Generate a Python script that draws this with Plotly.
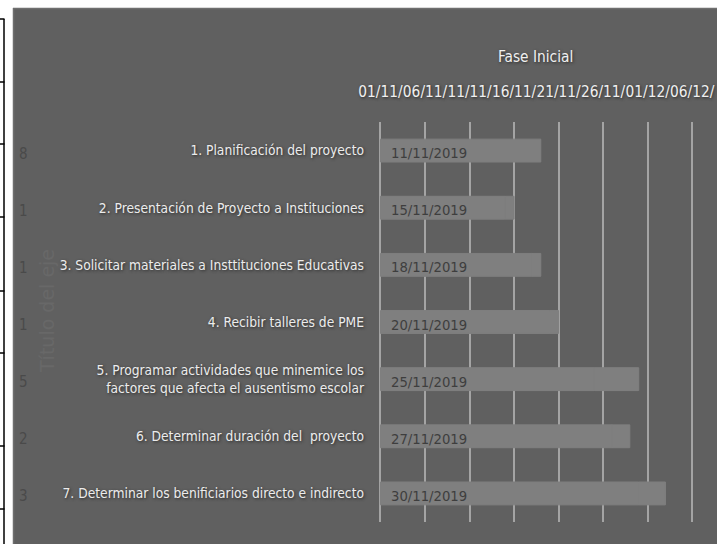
import plotly.graph_objects as go
import pandas as pd

# ---------------- data ----------------
tasks = [
    "1. Planificación del proyecto",
    "2. Presentación de Proyecto a Instituciones",
    "3. Solicitar materiales a Insttituciones Educativas",
    "4. Recibir talleres de PME",
    "5. Programar actividades que minemice los<br>factores que afecta el ausentismo escolar",
    "6. Determinar duración del  proyecto",
    "7. Determinar los benificiarios directo e indirecto",
]
start_dates = ["2019-11-11", "2019-11-15", "2019-11-18", "2019-11-20",
               "2019-11-25", "2019-11-27", "2019-11-30"]
durations = [8, 1, 1, 1, 5, 2, 3]
axis_start = "2019-11-01"
range_start = "2019-10-31 20:00"
range_end = "2019-12-08 19:00"
tick_dates = ["2019-11-01", "2019-11-06", "2019-11-11", "2019-11-16",
              "2019-11-21", "2019-11-26", "2019-12-01", "2019-12-06"]
tick_labels = ["01/11/", "06/11/", "11/11/", "16/11/", "21/11/", "26/11/", "01/12/", "06/12/"]
chart_title = "Fase Inicial"
axis_title = "Título del eje"

# ---------------- layout geometry ----------------
W, H = 717, 544
ML, MR, MT, MB = 379, 0, 122, 22
PW, PH = W - ML - MR, H - MT - MB


def px2x(px):
    return (px - ML) / PW


def px2y(py):
    return (H - MB - py) / PH


FONT = "DejaVu Sans Condensed, DejaVu Sans, sans-serif"
BG = "#606060"
BAR = "#7f7f7f"
SHADOW = "1px 1px 3px #2a2a2a"

DAY_MS = 86400000
t0 = pd.Timestamp(axis_start)
offset_ms = [(pd.Timestamp(d) - t0).total_seconds() * 1000 for d in start_dates]
dur_ms = [d * DAY_MS for d in durations]

fig = go.Figure()
# start-date series (from axis start to start date)
fig.add_trace(go.Bar(
    y=tasks, x=offset_ms, base=[axis_start] * len(tasks), orientation="h",
    marker=dict(color=BAR, line=dict(width=1, color=BAR)), width=0.4,
    hoverinfo="skip", showlegend=False,
))
# duration series
fig.add_trace(go.Bar(
    y=tasks, x=dur_ms, base=start_dates, orientation="h",
    marker=dict(color=BAR, line=dict(width=1, color=BAR)), width=0.4,
    hoverinfo="skip", showlegend=False,
))

annotations = []
for t, s, d in zip(tasks, start_dates, durations):
    annotations.append(dict(
        x=axis_start, xref="x", y=t, yref="y", xanchor="left", xshift=9, yshift=-2,
        text=pd.Timestamp(s).strftime("%d/%m/%Y"), showarrow=False,
        font=dict(family=FONT, size=14.7, color="#3e3e3e"),
    ))
    annotations.append(dict(
        x=px2x(23), xref="paper", y=t, yref="y", xanchor="center", yshift=-3,
        text=str(d), showarrow=False,
        font=dict(family=FONT, size=15, color="#4a4a4a"),
    ))

annotations.append(dict(
    x=px2x(535), y=px2y(57), xref="paper", yref="paper", showarrow=False,
    text=chart_title, xanchor="center", yanchor="middle",
    font=dict(family=FONT, size=15.3, color="#f0f0f0", shadow=SHADOW),
))
annotations.append(dict(
    x=px2x(47), y=px2y(311), xref="paper", yref="paper", showarrow=False,
    text=axis_title, textangle=-90, xanchor="center", yanchor="middle",
    font=dict(family="DejaVu Sans, sans-serif", size=19, color="#686868"),
))

shapes = [
    # white surroundings (document page)
    dict(type="rect", xref="paper", yref="paper", x0=px2x(0), x1=px2x(13), y0=px2y(H), y1=px2y(0),
         fillcolor="white", line=dict(width=0), layer="below"),
    dict(type="rect", xref="paper", yref="paper", x0=px2x(0), x1=px2x(W), y0=px2y(8), y1=px2y(0),
         fillcolor="white", line=dict(width=0), layer="below"),
    # chart border
    dict(type="line", xref="paper", yref="paper", x0=px2x(13.5), x1=px2x(13.5), y0=px2y(8), y1=px2y(H),
         line=dict(color="#6f6f6f", width=1.5)),
    dict(type="line", xref="paper", yref="paper", x0=px2x(13), x1=px2x(W), y0=px2y(8.5), y1=px2y(8.5),
         line=dict(color="#6f6f6f", width=1.5)),
    # table border on the left
    dict(type="line", xref="paper", yref="paper", x0=px2x(4), x1=px2x(4), y0=px2y(19), y1=px2y(H),
         line=dict(color="black", width=1.5)),
]
for ly in [19, 82, 144, 217, 291, 353, 446, 509]:
    shapes.append(dict(type="line", xref="paper", yref="paper", x0=px2x(0), x1=px2x(4.5),
                       y0=px2y(ly), y1=px2y(ly), line=dict(color="black", width=1.5)))

fig.update_layout(
    width=W, height=H,
    margin=dict(l=ML, r=MR, t=MT, b=MB, autoexpand=False),
    paper_bgcolor=BG, plot_bgcolor=BG,
    barmode="overlay",
    showlegend=False,
    annotations=annotations,
    shapes=shapes,
    xaxis=dict(
        type="date", side="top", range=[range_start, range_end],
        tickmode="array", tickvals=tick_dates, ticktext=tick_labels,
        tickangle=0,
        showgrid=True, gridcolor="#a4a4a4", gridwidth=1.5,
        showline=False, zeroline=False, ticks="",
        ticklabelstandoff=21,
        tickfont=dict(family=FONT, size=15.3, color="#f0f0f0", shadow=SHADOW),
        automargin=False,
    ),
    yaxis=dict(
        type="category", categoryorder="array", categoryarray=tasks,
        autorange="reversed",
        showgrid=False, zeroline=False, showline=False, ticks="",
        ticklabelstandoff=14,
        tickfont=dict(family=FONT, size=13.7, color="#ececec", shadow=SHADOW),
        automargin=False,
    ),
)

fig.write_html("out.html", config={"displayModeBar": False},
               post_script="document.body.style.margin='0';document.body.style.padding='0';")
